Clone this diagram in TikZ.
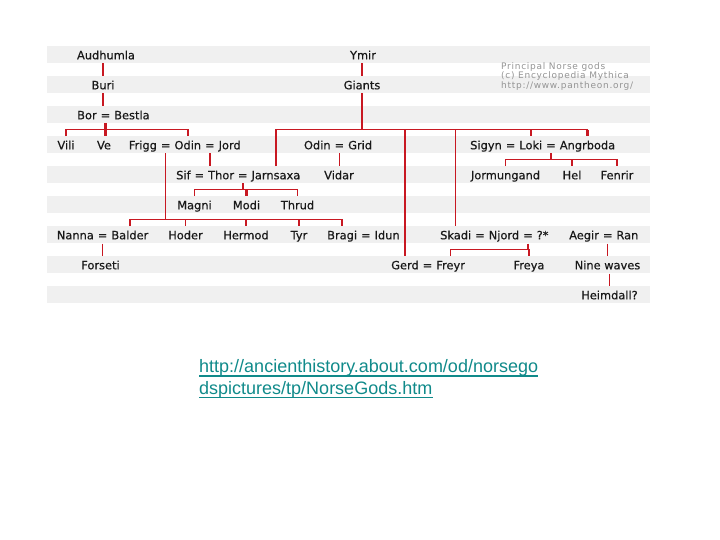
\documentclass[tikz,border=0pt]{standalone}
\usepackage{fontspec}
\setmainfont{DejaVu Sans}
\newfontfamily\godfont{DejaVu Sans}[FakeBold=0.5]
\newfontfamily\creditfont{DejaVu Sans}[LetterSpace=8]
\newfontfamily\urlfont{Liberation Sans}
\usetikzlibrary{positioning,calc}
\definecolor{linkred}{RGB}{200,24,34}
\definecolor{stripegray}{RGB}{240,240,240}
\definecolor{urlteal}{RGB}{16,138,138}

\begin{document}
\begin{tikzpicture}[x=1pt, y=-1pt, node distance=3.6pt,
  god/.style={inner sep=0pt, text height=13pt, text depth=4pt, text=black!90,
    font=\godfont\fontsize{11.4}{13}\selectfont},
  credit/.style={inner sep=0pt, anchor=base west, text=black!42,
    font=\creditfont\fontsize{9}{9.5}\selectfont},
  urltext/.style={inner sep=0pt, anchor=base west, text=urlteal,
    font=\urlfont\fontsize{18}{21}\selectfont},
  link/.style={linkred, line width=1.5pt},
  thicklink/.style={linkred, line width=2.3pt}]
  \useasboundingbox (0,0) rectangle (720,540);
  % grey bands behind the rows
  \foreach \r in {0,...,8}
    \fill[stripegray] (47,46.3+30*\r) rectangle (650,63.3+30*\r);
  % single names
  \foreach \n/\x/\y/\t in {audhumla/106/59.3/Audhumla, ymir/363/59.3/Ymir,
      buri/103/89.3/Buri, giants/362/89.3/Giants,
      vili/66/149.3/Vili, ve/104/149.3/Ve,
      vidar/339/179.3/Vidar, jormungand/505.5/179.3/Jormungand,
      hel/572/179.3/Hel, fenrir/617/179.3/Fenrir,
      magni/194.5/209.3/Magni, modi/246.5/209.3/Modi, thrud/297.5/209.3/Thrud,
      hoder/185.5/239.3/Hoder, hermod/246/239.3/Hermod, tyr/299/239.3/Tyr,
      forseti/100.5/269.3/Forseti, freya/529/269.3/Freya,
      ninewaves/607.5/269.3/Nine waves, heimdall/609.5/299.3/Heimdall?}
    \node[god, anchor=base] (\n) at (\x,\y) {\t};
  % couples
  \node[god, anchor=base west] (bor) at (77,119.3) {Bor};
  \node[god, right=of bor] (borEq) {=};
  \node[god, right=of borEq] (bestla) {Bestla};
  \node[god, anchor=base west] (frigg) at (128.7,149.3) {Frigg};
  \node[god, right=of frigg] (friggEq) {=};
  \node[god, right=of friggEq] (odin) {Odin};
  \node[god, right=of odin] (jordEq) {=};
  \node[god, right=of jordEq] (jord) {Jord};
  \node[god, anchor=base west] (odinB) at (303.8,149.3) {Odin};
  \node[god, right=of odinB] (gridEq) {=};
  \node[god, right=of gridEq] (grid) {Grid};
  \node[god, anchor=base west] (sigyn) at (470,149.3) {Sigyn};
  \node[god, right=of sigyn] (sigynEq) {=};
  \node[god, right=of sigynEq] (loki) {Loki};
  \node[god, right=of loki] (lokiEq) {=};
  \node[god, right=of lokiEq] (angrboda) {Angrboda};
  \node[god, anchor=base west] (sif) at (176,179.3) {Sif};
  \node[god, right=of sif] (sifEq) {=};
  \node[god, right=of sifEq] (thor) {Thor};
  \node[god, right=of thor] (jarnEq) {=};
  \node[god, right=of jarnEq] (jarnsaxa) {Jarnsaxa};
  \node[god, anchor=base west] (nanna) at (56.7,239.3) {Nanna};
  \node[god, right=of nanna] (balderEq) {=};
  \node[god, right=of balderEq] (balder) {Balder};
  \node[god, anchor=base west] (bragi) at (327,239.3) {Bragi};
  \node[god, right=of bragi] (idunEq) {=};
  \node[god, right=of idunEq] (idun) {Idun};
  \node[god, anchor=base west] (skadi) at (440,239.3) {Skadi};
  \node[god, right=of skadi] (skadiEq) {=};
  \node[god, right=of skadiEq] (njord) {Njord};
  \node[god, right=of njord] (njordEq) {=};
  \node[god, right=of njordEq] (unknown) {?*};
  \node[god, anchor=base west] (aegir) at (569,239.3) {Aegir};
  \node[god, right=of aegir] (ranEq) {=};
  \node[god, right=of ranEq] (ran) {Ran};
  \node[god, anchor=base west] (gerd) at (391,269.3) {Gerd};
  \node[god, right=of gerd] (freyrEq) {=};
  \node[god, right=of freyrEq] (freyr) {Freyr};
  % credit
  \node[credit] (credit1) at (501,69.3) {Principal Norse gods};
  \node[credit] (credit2) at (501,78.8) {(c) Encyclopedia Mythica};
  \node[credit] (credit3) at (501,88.3) {http://www.pantheon.org/};
  % bus levels
  \coordinate (borBus) at ($(borEq.south |- ve.north)+(0,6.5pt)$);
  \coordinate (gBus) at ($(giants.south |- odinB.north)+(0,6.5pt)$);
  \coordinate (fBus) at ($(friggEq.south |- hoder.north)+(0,6.5pt)$);
  \coordinate (tBus) at ($(jarnEq.south |- modi.north)+(0,6.5pt)$);
  \coordinate (lBus) at ($(lokiEq.south |- hel.north)+(0,6.5pt)$);
  \coordinate (nBus) at ($(njordEq.south |- freya.north)+(0,6.5pt)$);
  % lines of descent
  \draw[link] (buri.north |- audhumla.south) -- (buri.north);
  \draw[link] (buri.south) -- (buri.south |- borEq.north);
  \draw[link] (giants.north |- ymir.south) -- (giants.north);
  \draw[thicklink] (borEq.south) -- (borEq.south |- ve.north);
  \draw[link] (vili.north) |- (borBus) -| (odin.north);
  \draw[link] (giants.south) -- (gBus);
  \draw[link] (jarnsaxa.north) |- (gBus) -| (angrboda.north);
  \draw[link] (gBus) -| (loki.north);
  \draw[link] (gBus) -| (skadi.north);
  \draw[link] (gBus) -| (gerd.north);
  \draw[thicklink] (gerd.north |- gBus) -- (gerd.north);
  \draw[thicklink] (angrboda.north |- gBus) -- (angrboda.north);
  \draw[link] (jordEq.south) -- (jordEq.south |- thor.north);
  \draw[link] (gridEq.south) -- (gridEq.south |- vidar.north);
  \draw[link] (friggEq.south) -- (fBus);
  \draw[link] (balder.north) |- (fBus) -| (bragi.north);
  \draw[thicklink] (balder.north |- fBus) -- (balder.north);
  \foreach \c in {hoder,hermod,tyr}
    \draw[link] (fBus) -| (\c.north);
  \draw[link] (jarnEq.south) -- (tBus);
  \draw[link] (magni.north) |- (tBus) -| (thrud.north);
  \draw[thicklink] (modi.north |- tBus) -- (modi.north);
  \draw[link] (lokiEq.south) -- (lBus);
  \draw[link] (jormungand.north) |- (lBus) -| (fenrir.north);
  \draw[link] (hel.north |- lBus) -- (hel.north);
  \draw[link] (balderEq.south) -- (balderEq.south |- forseti.north);
  \draw[link] (njordEq.south) -- (nBus);
  \draw[link] (freyr.north) |- (nBus) -| (freya.north);
  \draw[link] (ranEq.south) -- (ranEq.south |- ninewaves.north);
  \draw[link] (heimdall.north |- ninewaves.south) -- (heimdall.north);
  % source link
  \node[urltext] (url1) at (199,372.5) {http://ancienthistory.about.com/od/norsego};
  \node[urltext] (url2) at (199,394) {dspictures/tp/NorseGods.htm};
  \draw[urlteal, line width=1.3pt] ([yshift=-3.5pt]url1.base west) -- ([yshift=-3.5pt]url1.base east);
  \draw[urlteal, line width=1.3pt] ([yshift=-3.5pt]url2.base west) -- ([yshift=-3.5pt]url2.base east);
\end{tikzpicture}
\end{document}
